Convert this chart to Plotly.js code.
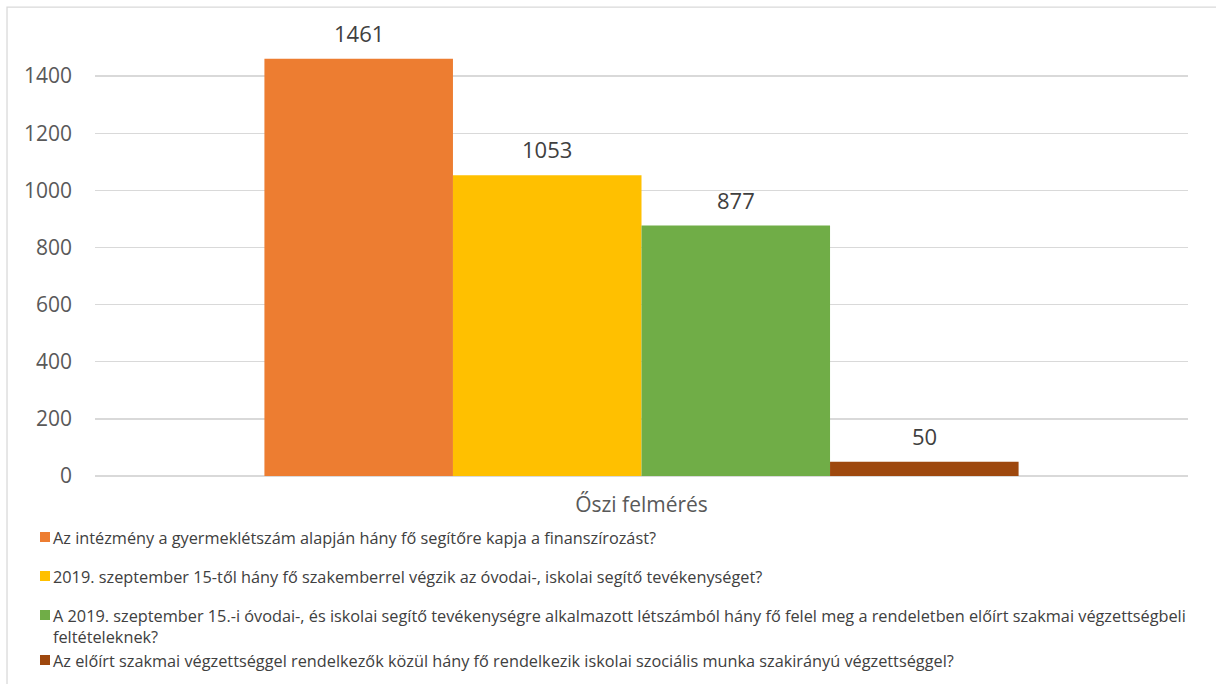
<!DOCTYPE html>
<html>
<head>
<meta charset="utf-8">
<script src="https://cdn.plot.ly/plotly-3.0.1.min.js"></script>
<style>
  html, body { margin: 0; padding: 0; background: #fff; }
  #chart { width: 1216px; height: 684px; }
</style>
</head>
<body>
<div id="chart"></div>
<script>
// one category, four questions
var categories = ['Őszi felmérés'];
var seriesNames = [
  'Az intézmény a gyermeklétszám alapján hány fő segítőre kapja a finanszírozást?',
  '2019. szeptember 15-től hány fő szakemberrel végzik az óvodai-, iskolai segítő tevékenységet?',
  'A 2019. szeptember 15.-i óvodai-, és iskolai segítő tevékenységre alkalmazott létszámból hány fő felel meg a rendeletben előírt szakmai végzettségbeli<br>feltételeknek?',
  'Az előírt szakmai végzettséggel rendelkezők közül hány fő rendelkezik iskolai szociális munka szakirányú végzettséggel?'
];
var seriesValues = [[1461], [1053], [877], [50]];
var seriesColors = ['#ED7D31', '#FFC000', '#70AD47', '#9E480E'];
var yTicks = [0, 200, 400, 600, 800, 1000, 1200, 1400];

var fontFam = 'Open Sans, sans-serif';
var bargap = 0.31;
// legend rows: pixel distance of each item's first line below the plot bottom
var legendRowsPx = [61, 100, 139, 184];

var data = [];
var annotations = [];
var shapes = [];
var w = (1 - bargap) / seriesNames.length;
for (var i = 0; i < seriesNames.length; i++) {
  data.push({
    type: 'bar',
    x: categories,
    y: seriesValues[i],
    name: seriesNames[i],
    marker: {color: seriesColors[i]},
    hoverinfo: 'none'
  });
  // value labels above each bar
  for (var j = 0; j < categories.length; j++) {
    annotations.push({
      xref: 'x', yref: 'y',
      x: j + (i - (seriesNames.length - 1) / 2) * w,
      y: seriesValues[i][j],
      yshift: 26,
      text: String(seriesValues[i][j]),
      showarrow: false,
      font: {family: fontFam, size: 22, color: '#404040'}
    });
  }
  // legend built by hand so the text sits right next to the swatch (Excel style)
  var rowTop = legendRowsPx[i] - 11;
  annotations.push({
    xref: 'paper', yref: 'paper',
    x: 0, y: 0,
    xshift: -43, yshift: -rowTop,
    xanchor: 'left', yanchor: 'top',
    align: 'left',
    borderpad: 0,
    text: seriesNames[i],
    showarrow: false,
    font: {family: fontFam, size: 16.3, color: '#404040'}
  });
  shapes.push({
    type: 'rect', xref: 'paper', yref: 'paper',
    xsizemode: 'pixel', ysizemode: 'pixel',
    xanchor: 0, yanchor: 0,
    x0: -55, x1: -45,
    y0: -legendRowsPx[i] - 5, y1: -legendRowsPx[i] + 5,
    line: {width: 0},
    fillcolor: seriesColors[i]
  });
}

// chart area border
shapes.push({
  type: 'rect', xref: 'paper', yref: 'paper',
  x0: -0.0805, x1: 1.05, y0: -0.5, y1: 1.026,
  line: {color: '#d9d9d9', width: 1.3},
  fillcolor: 'rgba(0,0,0,0)'
});

var layout = {
  width: 1216,
  height: 684,
  margin: {l: 95, r: 28, t: 19, b: 208},
  paper_bgcolor: '#fff',
  plot_bgcolor: '#fff',
  barmode: 'group',
  bargap: bargap,
  bargroupgap: 0,
  showlegend: false,
  xaxis: {
    type: 'category',
    showgrid: false,
    showline: false,
    ticks: '',
    ticklabelstandoff: 14,
    tickfont: {family: fontFam, size: 21, color: '#595959'},
    fixedrange: true
  },
  yaxis: {
    range: [0, 1600],
    tickvals: yTicks,
    showgrid: true,
    gridcolor: '#d9d9d9',
    gridwidth: 1.3,
    zeroline: true,
    zerolinecolor: '#d9d9d9',
    zerolinewidth: 1.3,
    showline: false,
    ticks: '',
    ticklabelstandoff: 22,
    tickfont: {family: fontFam, size: 21, color: '#595959'},
    fixedrange: true
  },
  annotations: annotations,
  shapes: shapes
};

Plotly.newPlot('chart', data, layout, {displayModeBar: false, staticPlot: true});
</script>
</body>
</html>
